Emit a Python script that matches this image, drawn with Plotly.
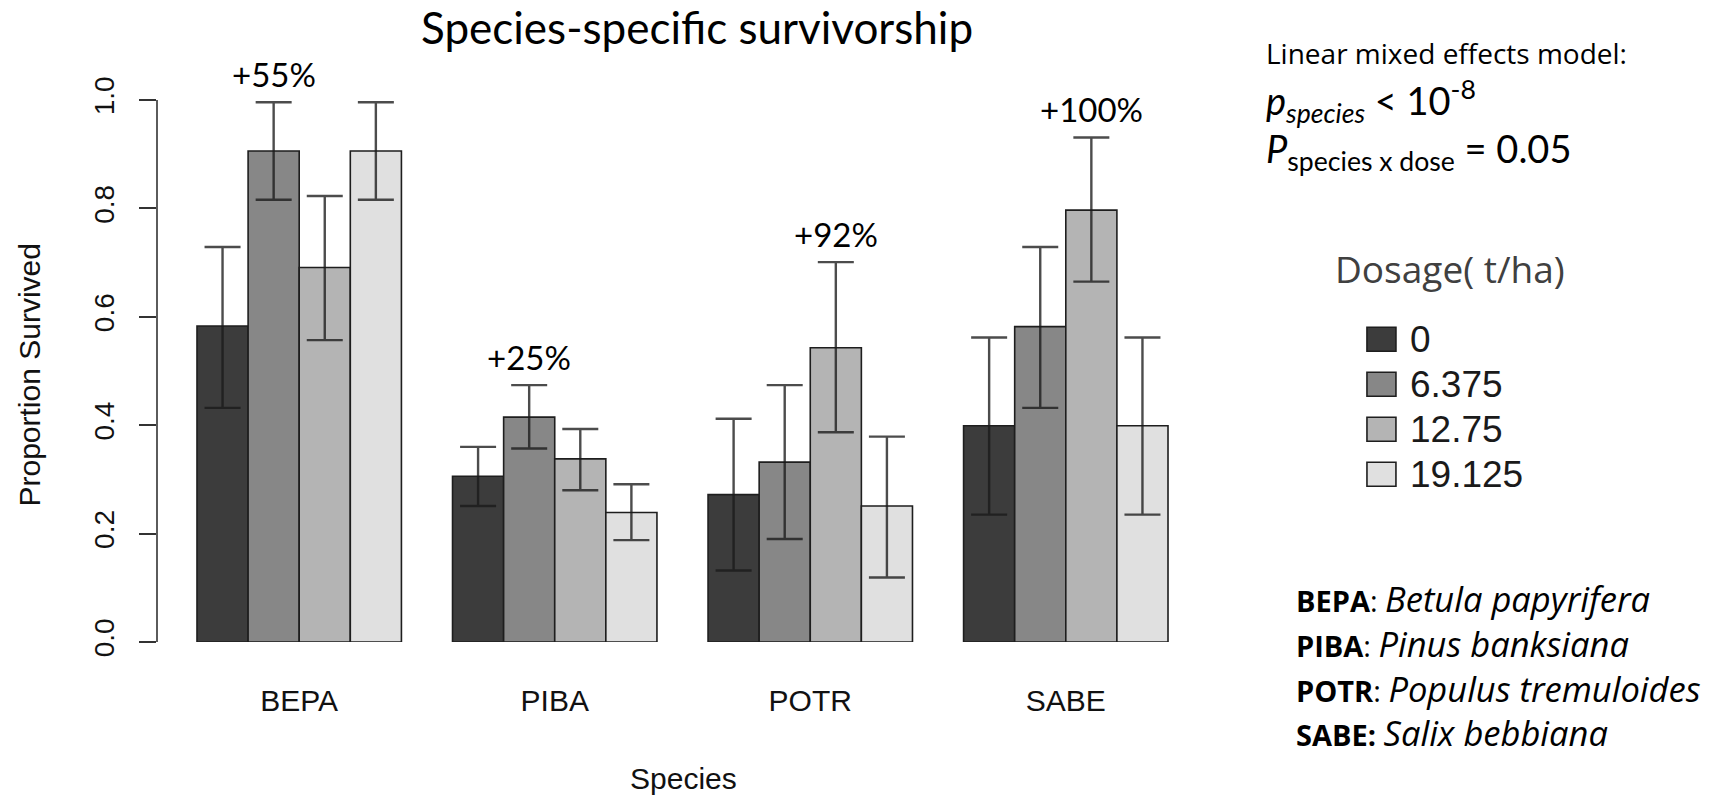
import plotly.graph_objects as go

# ---- data -------------------------------------------------------------
species = ["BEPA", "PIBA", "POTR", "SABE"]
doses = ["0", "6.375", "12.75", "19.125"]

# proportion survived, one list per dose (order follows `species`)
surv_0 = [0.583, 0.306, 0.272, 0.399]
surv_6375 = [0.906, 0.415, 0.332, 0.582]
surv_1275 = [0.691, 0.338, 0.543, 0.797]
surv_19125 = [0.906, 0.239, 0.251, 0.399]

# interval bounds
lo_0 = [0.432, 0.251, 0.132, 0.235]
hi_0 = [0.729, 0.360, 0.412, 0.562]
lo_6375 = [0.816, 0.357, 0.190, 0.432]
hi_6375 = [0.996, 0.474, 0.474, 0.729]
lo_1275 = [0.557, 0.280, 0.387, 0.665]
hi_1275 = [0.823, 0.393, 0.701, 0.931]
lo_19125 = [0.816, 0.188, 0.119, 0.235]
hi_19125 = [0.996, 0.291, 0.379, 0.562]

# best-dose gain over control, and which dose it belongs to
gain_labels = ["+55%", "+25%", "+92%", "+100%"]
gain_dose_index = [1, 1, 2, 2]

species_names = ["Betula papyrifera", "Pinus banksiana",
                 "Populus tremuloides", "Salix bebbiana"]

# ---- styling / layout geometry -----------------------------------------
W, H = 1723, 795
ML, MR, MT, MB = 156.7, 515, 72.9, 153.3
PW, PH = W - ML - MR, H - MT - MB
Y_TOP = 1.05

fills = ["#3c3c3c", "#878787", "#b4b4b4", "#e0e0e0"]
err_color = "rgba(25,25,25,0.78)"
sans_r = "Arial, Liberation Sans, sans-serif"
sans_h = "Lato, Open Sans, sans-serif"
sans_o = "Open Sans, Noto Sans, sans-serif"


def px_x(px):
    return (px - ML) / PW


def px_y(py):
    return (H - MB - py) / PH


values = [surv_0, surv_6375, surv_1275, surv_19125]
lows = [lo_0, lo_6375, lo_1275, lo_19125]
highs = [hi_0, hi_6375, hi_1275, hi_19125]

fig = go.Figure()
for k, dose in enumerate(doses):
    v = values[k]
    fig.add_trace(go.Bar(
        x=species, y=v, name=dose,
        marker=dict(color=fills[k], line=dict(color="#1e1e1e", width=1.6)),
        error_y=dict(type="data", symmetric=False,
                     array=[h - y for h, y in zip(highs[k], v)],
                     arrayminus=[y - l for y, l in zip(v, lows[k])],
                     color=err_color, thickness=2.4, width=18),
        showlegend=False,
    ))

annotations = []

# percentage gain labels above the best-dose bar of each species
n_d = len(doses)
group_w = 0.8
bar_w = group_w / n_d
for i, (lab, k) in enumerate(zip(gain_labels, gain_dose_index)):
    annotations.append(dict(
        x=i - group_w / 2 + bar_w * (k + 0.5), y=highs[k][i],
        xref="x", yref="y", text=lab, showarrow=False,
        xanchor="center", yanchor="middle", yshift=28,
        font=dict(family=sans_h, size=33, color="#000")))

# title
annotations.append(dict(
    x=px_x(697), y=px_y(0), xref="paper", yref="paper",
    text="Species-specific survivorship", showarrow=False,
    xanchor="center", yanchor="top", borderpad=0,
    font=dict(family=sans_h, size=44, color="#000")))

# axis titles
annotations.append(dict(
    x=px_x(683), y=px_y(778), xref="paper", yref="paper", text="Species",
    showarrow=False, xanchor="center", yanchor="middle",
    font=dict(family=sans_r, size=30, color="#111")))
annotations.append(dict(
    x=px_x(29), y=px_y(375), xref="paper", yref="paper",
    text="Proportion Survived", textangle=-90, showarrow=False,
    xanchor="center", yanchor="middle",
    font=dict(family=sans_r, size=30, color="#111")))

# model statistics
annotations.append(dict(
    x=px_x(1264), y=px_y(53), xref="paper", yref="paper",
    text="Linear mixed effects model:", showarrow=False,
    xanchor="left", yanchor="middle",
    font=dict(family=sans_o, size=28, color="#000")))
annotations.append(dict(
    x=px_x(1264), y=px_y(101), xref="paper", yref="paper",
    text="<i>p</i><sub><i>species</i></sub> &lt; 10<sup>-8</sup>",
    showarrow=False, xanchor="left", yanchor="middle",
    font=dict(family=sans_h, size=38, color="#000")))
annotations.append(dict(
    x=px_x(1264), y=px_y(151), xref="paper", yref="paper",
    text="<i>P</i><sub>species x dose</sub> = 0.05",
    showarrow=False, xanchor="left", yanchor="middle",
    font=dict(family=sans_h, size=38, color="#000")))

# dose legend
annotations.append(dict(
    x=px_x(1333), y=px_y(268), xref="paper", yref="paper",
    text="Dosage( t/ha)", showarrow=False, xanchor="left", yanchor="middle",
    font=dict(family=sans_o, size=37, color="#404040")))

shapes = []
row_y = [339, 384, 429, 474]
for k, dose in enumerate(doses):
    cy = row_y[k]
    shapes.append(dict(
        type="rect", xref="paper", yref="paper",
        x0=px_x(1367), x1=px_x(1396), y0=px_y(cy + 12), y1=px_y(cy - 12),
        fillcolor=fills[k], line=dict(color="#1e1e1e", width=1.6)))
    annotations.append(dict(
        x=px_x(1408), y=px_y(cy), xref="paper", yref="paper", text=dose,
        showarrow=False, xanchor="left", yanchor="middle",
        font=dict(family=sans_r, size=37, color="#1a1a1a")))

# species key
key_y = [598, 643, 688, 732]
for i, (code, name) in enumerate(zip(species, species_names)):
    sep = "<b>:</b>" if code == "SABE" else ":"
    annotations.append(dict(
        x=px_x(1294), y=px_y(key_y[i]), xref="paper", yref="paper",
        text=(f"<b>{code}</b>{sep} "
              f"<span style='font-size:34.5px'><i>{name}</i></span>"),
        showarrow=False, xanchor="left", yanchor="middle",
        font=dict(family=sans_o, size=29, color="#000")))

# y axis line spanning only the labelled range
shapes.append(dict(type="line", xref="paper", yref="y",
                   x0=0, x1=0, y0=0, y1=1,
                   line=dict(color="#333", width=1.6)))

fig.update_layout(
    width=W, height=H,
    margin=dict(l=ML, r=MR, t=MT, b=MB, autoexpand=False),
    paper_bgcolor="white", plot_bgcolor="white",
    barmode="group", bargap=0.2, bargroupgap=0,
    xaxis=dict(type="category", range=[-0.5565, 3.5565],
               showgrid=False, zeroline=False, showline=False,
               ticks="", ticklabelstandoff=38,
               tickfont=dict(family=sans_r, size=30, color="#111")),
    yaxis=dict(range=[0, Y_TOP], tickvals=[0, 0.2, 0.4, 0.6, 0.8, 1.0],
               tickformat=".1f", ticks="outside", ticklen=17,
               tickwidth=1.6, tickcolor="#333", tickangle=-90,
               ticklabelstandoff=14,
               showgrid=False, zeroline=False, showline=False,
               tickfont=dict(family=sans_r, size=28, color="#111")),
    annotations=annotations, shapes=shapes,
    showlegend=False,
)

fig.write_html("out.html")
